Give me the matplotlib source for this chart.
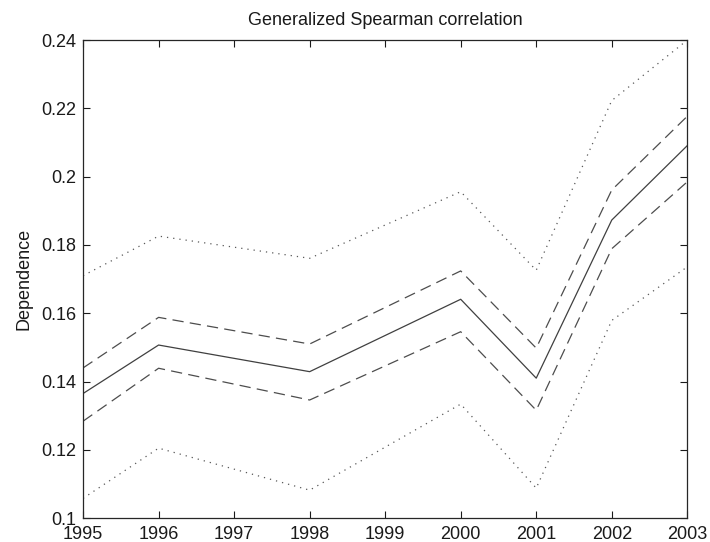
import numpy as np
import matplotlib
matplotlib.use('Agg')
import matplotlib.pyplot as plt

plt.rcParams['font.family'] = ['Liberation Sans', 'DejaVu Sans']

# Datos
years = [1995, 1996, 1998, 2000, 2001, 2002, 2003]
estimate = [0.1365, 0.1507, 0.1429, 0.1641, 0.1410, 0.1873, 0.2091]
upper_dash = [0.1440, 0.1588, 0.1510, 0.1724, 0.1498, 0.1961, 0.2177]
lower_dash = [0.1284, 0.1439, 0.1346, 0.1546, 0.1316, 0.1789, 0.1985]
upper_dot = [0.1710, 0.1826, 0.1761, 0.1956, 0.1726, 0.2223, 0.2400]
lower_dot = [0.1058, 0.1205, 0.1082, 0.1334, 0.1088, 0.1579, 0.1736]
xticks = list(range(1995, 2004))
yticks = [0.1, 0.12, 0.14, 0.16, 0.18, 0.2, 0.22, 0.24]
ytick_labels = ['0.1', '0.12', '0.14', '0.16', '0.18', '0.2', '0.22', '0.24']

fig = plt.figure(figsize=(7.1, 5.42), dpi=100)
ax = fig.add_axes([0.117, 0.044, 0.851, 0.882])

ax.plot(years, upper_dot, color='0.35', lw=0.9, linestyle=(0, (1, 4)))
ax.plot(years, lower_dot, color='0.35', lw=0.9, linestyle=(0, (1, 4)))
ax.plot(years, upper_dash, color='0.3', lw=0.9, linestyle=(0, (9, 5)))
ax.plot(years, lower_dash, color='0.3', lw=0.9, linestyle=(0, (9, 5)))
ax.plot(years, estimate, color='0.25', lw=0.9)

ax.set_xlim(1995, 2003)
ax.set_ylim(0.1, 0.24)
ax.set_xticks(xticks)
ax.set_xticklabels([str(y) for y in xticks])
ax.set_yticks(yticks)
ax.set_yticklabels(ytick_labels)
ax.tick_params(direction='in', top=True, right=True, length=5, width=0.8,
               labelsize=13, colors='0.1')
ax.tick_params(axis='x', pad=6)
ax.tick_params(axis='y', pad=5)
for s in ax.spines.values():
    s.set_linewidth(0.9)
    s.set_color('0.15')

ax.set_title('Generalized Spearman correlation', fontsize=13, pad=11, color='0.1')
ax.set_ylabel('Dependence', fontsize=13, labelpad=6, color='0.1')

fig.savefig('out.png', dpi=100)
